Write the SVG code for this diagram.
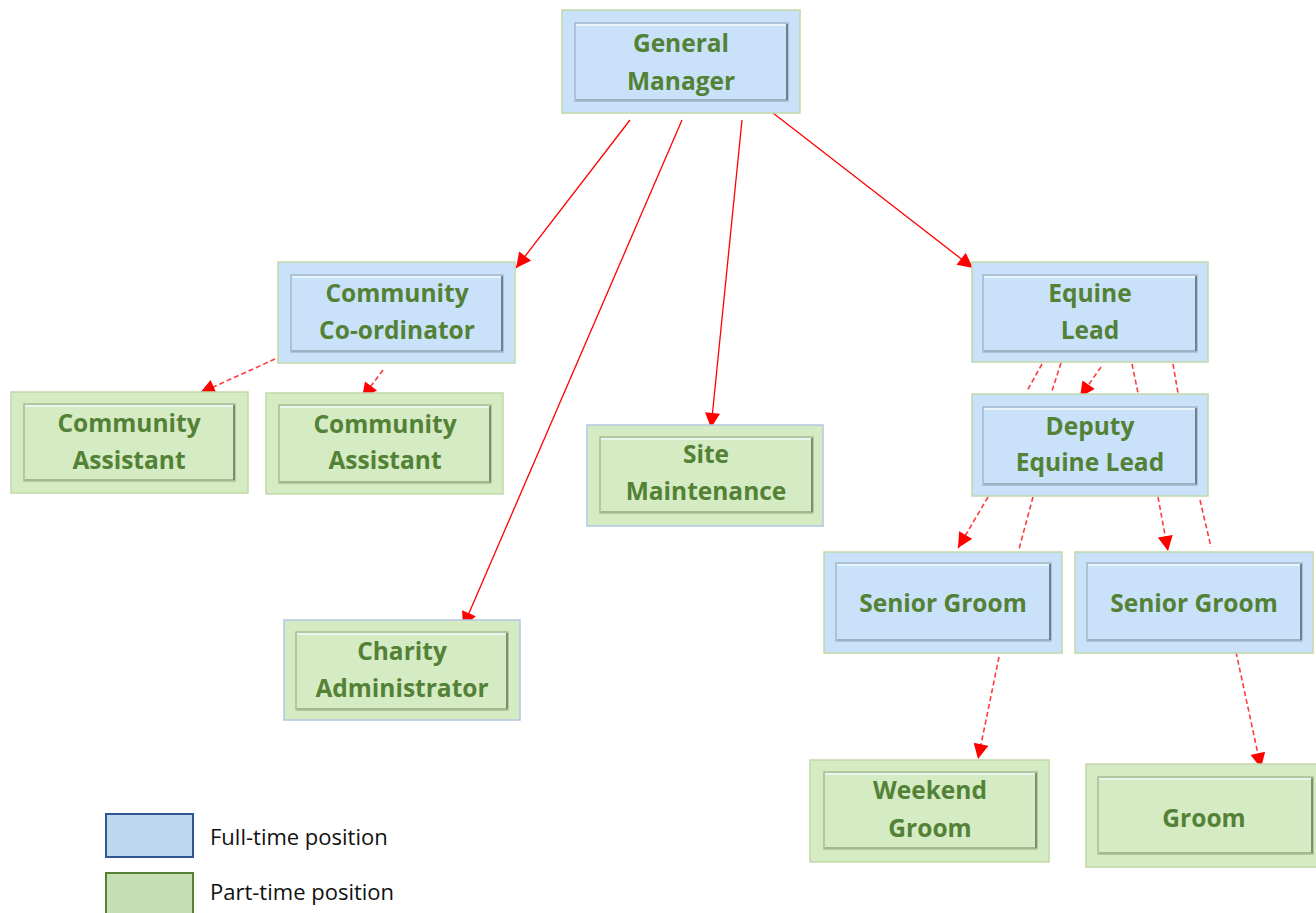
<svg xmlns="http://www.w3.org/2000/svg" width="1316" height="913" viewBox="0 0 1316 913">
<style>
.ob{fill:#c9e2f9;stroke:#c2d8a8;stroke-width:1.5}
.og{fill:#d4ebc4;stroke:#c2d8a8;stroke-width:1.5}
.ogb{fill:#d4ebc4;stroke:#b4c6e4;stroke-width:1.5}
.ib{fill:#c9e2f9;stroke:#a3b8ca;stroke-width:1.5}
.ig{fill:#d4ebc4;stroke:#a6bf93;stroke-width:1.5}
.hl{stroke:#f2f8fd;stroke-width:1.5;fill:none}
.dkb{stroke:#6f8090;stroke-width:2;fill:none}
.dkg{stroke:#7d8f70;stroke-width:2;fill:none}
.bbb{stroke:#9db1c3;stroke-width:2;fill:none}
.bbg{stroke:#a3ba91;stroke-width:2;fill:none}
.t{font-family:"Open Sans","Liberation Sans",sans-serif;font-weight:bold;font-size:24.5px;fill:#538135;text-anchor:middle}
.lg{font-family:"Open Sans","Liberation Sans",sans-serif;font-size:22px;fill:#111111}
.sl{stroke:#ff0000;stroke-width:1.3;fill:none}
.dl{stroke:#ff3b3b;stroke-width:1.6;fill:none;stroke-dasharray:5 3}
</style>
<defs>
<marker id="ah" viewBox="0 0 10 10" refX="10" refY="5" markerWidth="16" markerHeight="15" markerUnits="userSpaceOnUse" orient="auto">
<path d="M0,0 L10,5 L0,10 z" fill="#ff0000"/>
</marker>
</defs>
<rect width="1316" height="913" fill="#ffffff"/>
<g id="connectors">
<line class="sl" x1="630" y1="120" x2="516" y2="268" marker-end="url(#ah)"/>
<line class="sl" x1="682" y1="120" x2="463" y2="627" marker-end="url(#ah)"/>
<line class="sl" x1="742" y1="120" x2="711" y2="428" marker-end="url(#ah)"/>
<line class="sl" x1="773" y1="113" x2="973" y2="268" marker-end="url(#ah)"/>
<line class="dl" x1="275" y1="359" x2="200" y2="393" marker-end="url(#ah)"/>
<line class="dl" x1="383" y1="370" x2="362" y2="398" marker-end="url(#ah)"/>
<line class="dl" x1="1101" y1="367" x2="1080" y2="397" marker-end="url(#ah)"/>
<line class="dl" x1="1042" y1="364" x2="1027" y2="391"/>
<line class="dl" x1="1061" y1="363" x2="1052" y2="391"/>
<line class="dl" x1="1132" y1="364" x2="1138" y2="393"/>
<line class="dl" x1="1173" y1="364" x2="1178" y2="393"/>
<line class="dl" x1="988" y1="497" x2="958" y2="548" marker-end="url(#ah)"/>
<line class="dl" x1="1033" y1="497" x2="1019" y2="549"/>
<line class="dl" x1="1158" y1="497" x2="1168" y2="551" marker-end="url(#ah)"/>
<line class="dl" x1="1200" y1="500" x2="1211" y2="547"/>
<line class="dl" x1="999" y1="657" x2="978" y2="759" marker-end="url(#ah)"/>
<line class="dl" x1="1236" y1="652" x2="1261" y2="768" marker-end="url(#ah)"/>
</g>
<g id="gm">
<rect class="ob" x="562" y="10" width="238" height="103"/>
<rect class="ib" x="575" y="23" width="213" height="78"/>
<path class="hl" d="M576,25 H787"/><path class="bbb" d="M576,100 H787"/><path class="dkb" d="M787,24 V100"/>
<text class="t" x="681" y="52">General</text>
<text class="t" x="681" y="90">Manager</text>
</g>
<g id="coordinator">
<rect class="ob" x="278" y="262" width="237" height="101"/>
<rect class="ib" x="291" y="275" width="212" height="77"/>
<path class="hl" d="M292,277 H502"/><path class="bbb" d="M292,351 H502"/><path class="dkb" d="M502,276 V351"/>
<text class="t" x="397" y="302">Community</text>
<text class="t" x="397" y="339">Co-ordinator</text>
</g>
<g id="assistant1">
<rect class="og" x="11" y="392" width="237" height="101"/>
<rect class="ig" x="24" y="404" width="211" height="77"/>
<path class="hl" d="M25,406 H234"/><path class="bbg" d="M25,480 H234"/><path class="dkg" d="M234,405 V480"/>
<text class="t" x="129" y="432">Community</text>
<text class="t" x="129" y="469">Assistant</text>
</g>
<g id="assistant2">
<rect class="og" x="266" y="393" width="237" height="101"/>
<rect class="ig" x="279" y="405" width="212" height="78"/>
<path class="hl" d="M280,407 H490"/><path class="bbg" d="M280,482 H490"/><path class="dkg" d="M490,406 V482"/>
<text class="t" x="385" y="433">Community</text>
<text class="t" x="385" y="469">Assistant</text>
</g>
<g id="site">
<rect class="ogb" x="587" y="425" width="236" height="101"/>
<rect class="ig" x="600" y="437" width="213" height="76"/>
<path class="hl" d="M601,439 H812"/><path class="bbg" d="M601,512 H812"/><path class="dkg" d="M812,438 V512"/>
<text class="t" x="706" y="463">Site</text>
<text class="t" x="706" y="500">Maintenance</text>
</g>
<g id="charity">
<rect class="ogb" x="284" y="620" width="236" height="100"/>
<rect class="ig" x="296" y="632" width="212" height="78"/>
<path class="hl" d="M297,634 H507"/><path class="bbg" d="M297,709 H507"/><path class="dkg" d="M507,633 V709"/>
<text class="t" x="402" y="660">Charity</text>
<text class="t" x="402" y="697">Administrator</text>
</g>
<g id="equine">
<rect class="ob" x="972" y="262" width="236" height="100"/>
<rect class="ib" x="983" y="275" width="214" height="77"/>
<path class="hl" d="M984,277 H1196"/><path class="bbb" d="M984,351 H1196"/><path class="dkb" d="M1196,276 V351"/>
<text class="t" x="1090" y="302">Equine</text>
<text class="t" x="1090" y="339">Lead</text>
</g>
<g id="deputy">
<rect class="ob" x="972" y="394" width="236" height="102"/>
<rect class="ib" x="983" y="407" width="214" height="78"/>
<path class="hl" d="M984,409 H1196"/><path class="bbb" d="M984,484 H1196"/><path class="dkb" d="M1196,408 V484"/>
<text class="t" x="1090" y="435">Deputy</text>
<text class="t" x="1090" y="471">Equine Lead</text>
</g>
<g id="senior1">
<rect class="ob" x="824" y="552" width="238" height="101"/>
<rect class="ib" x="836" y="563" width="215" height="78"/>
<path class="hl" d="M837,565 H1050"/><path class="bbb" d="M837,640 H1050"/><path class="dkb" d="M1050,564 V640"/>
<text class="t" x="943" y="612">Senior Groom</text>
</g>
<g id="senior2">
<rect class="ob" x="1075" y="552" width="238" height="101"/>
<rect class="ib" x="1087" y="563" width="215" height="78"/>
<path class="hl" d="M1088,565 H1301"/><path class="bbb" d="M1088,640 H1301"/><path class="dkb" d="M1301,564 V640"/>
<text class="t" x="1194" y="612">Senior Groom</text>
</g>
<g id="weekend">
<rect class="og" x="810" y="760" width="239" height="102"/>
<rect class="ig" x="824" y="772" width="213" height="77"/>
<path class="hl" d="M825,774 H1036"/><path class="bbg" d="M825,848 H1036"/><path class="dkg" d="M1036,773 V848"/>
<text class="t" x="930" y="799">Weekend</text>
<text class="t" x="930" y="837">Groom</text>
</g>
<g id="groom">
<rect class="og" x="1086" y="764" width="236" height="103"/>
<rect class="ig" x="1098" y="777" width="215" height="77"/>
<path class="hl" d="M1099,779 H1312"/><path class="bbg" d="M1099,853 H1312"/><path class="dkg" d="M1312,778 V853"/>
<text class="t" x="1204" y="827">Groom</text>
</g>
<g id="legend">
<rect x="106" y="814" width="87" height="43" fill="#bdd7ee" stroke="#2f5597" stroke-width="2"/>
<text class="lg" x="210" y="845">Full-time position</text>
<rect x="106" y="873" width="87" height="45" fill="#c5e0b4" stroke="#548235" stroke-width="2"/>
<text class="lg" x="210" y="900">Part-time position</text>
</g>
</svg>
